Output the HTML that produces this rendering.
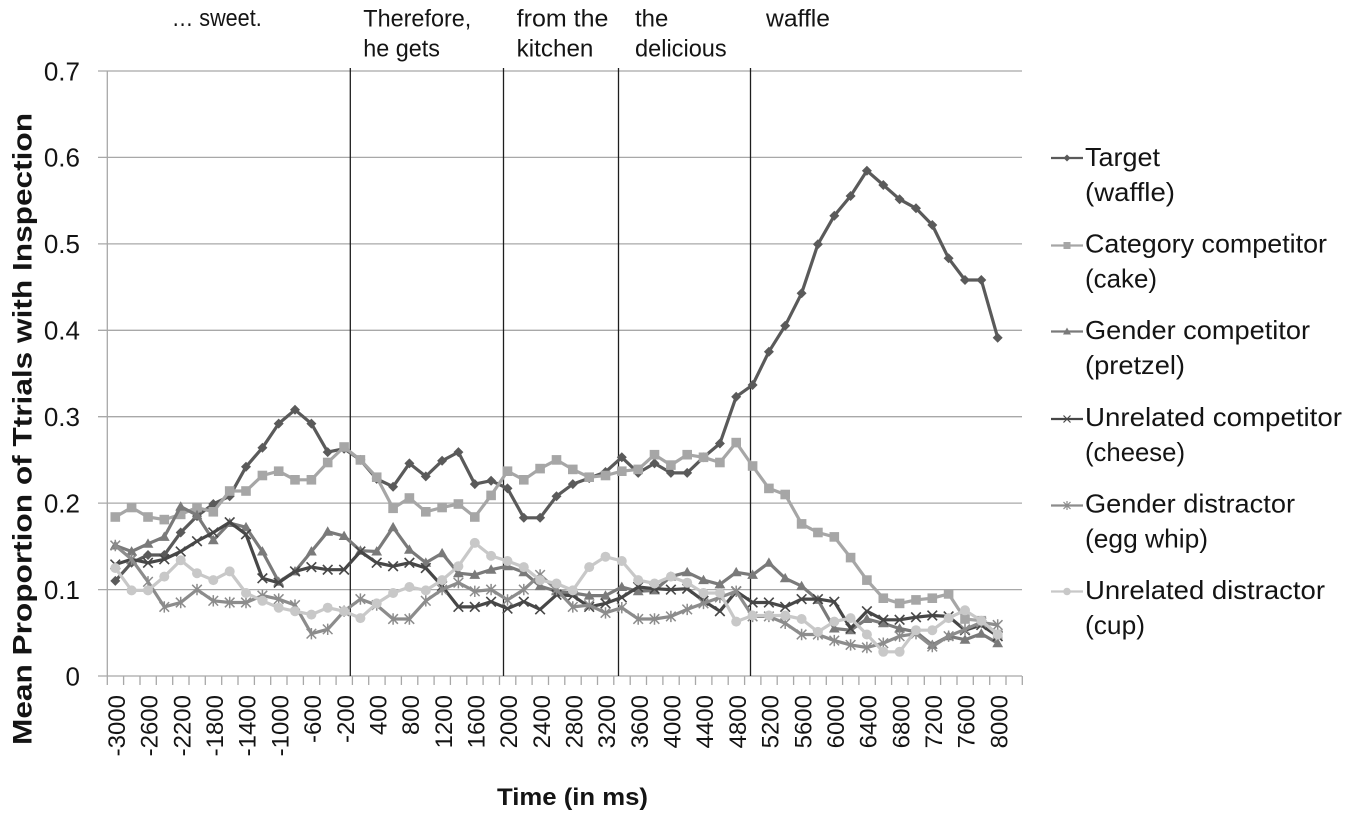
<!DOCTYPE html>
<html>
<head>
<meta charset="utf-8">
<style>
html,body{margin:0;padding:0;background:#fff;}
svg{display:block;}
text{font-family:"Liberation Sans",Arial,sans-serif;fill:#141414;}
</style>
</head>
<body>
<svg width="1345" height="817" viewBox="0 0 1345 817" xmlns="http://www.w3.org/2000/svg">
<defs>
  <marker id="mD" markerUnits="userSpaceOnUse" markerWidth="14" markerHeight="14" refX="7" refY="7" overflow="visible">
    <path d="M7,2 L12,7 L7,12 L2,7Z" fill="#5a5a5a"/>
  </marker>
  <marker id="mS" markerUnits="userSpaceOnUse" markerWidth="14" markerHeight="14" refX="7" refY="7" overflow="visible">
    <rect x="2.2" y="2.2" width="9.6" height="9.6" fill="#a6a6a6"/>
  </marker>
  <marker id="mT" markerUnits="userSpaceOnUse" markerWidth="14" markerHeight="14" refX="7" refY="7" overflow="visible">
    <path d="M7,1.6 L12.4,11 L1.6,11Z" fill="#7a7a7a"/>
  </marker>
  <marker id="mX" markerUnits="userSpaceOnUse" markerWidth="14" markerHeight="14" refX="7" refY="7" overflow="visible">
    <path d="M2.2,2.2 L11.8,11.8 M11.8,2.2 L2.2,11.8" stroke="#474747" stroke-width="1.6" fill="none"/>
  </marker>
  <marker id="mA" markerUnits="userSpaceOnUse" markerWidth="14" markerHeight="14" refX="7" refY="7" overflow="visible">
    <path d="M2.2,2.2 L11.8,11.8 M11.8,2.2 L2.2,11.8 M7,1.3 L7,12.7" stroke="#8c8c8c" stroke-width="1.5" fill="none"/>
  </marker>
  <marker id="mC" markerUnits="userSpaceOnUse" markerWidth="14" markerHeight="14" refX="7" refY="7" overflow="visible">
    <circle cx="7" cy="7" r="5" fill="#c8c8c8"/>
  </marker>
</defs>

<!-- gridlines -->
<g stroke="#a8a8a8" stroke-width="1.3" fill="none">
  <path d="M98,71 H1022 M98,157.4 H1022 M98,243.9 H1022 M98,330.3 H1022 M98,416.7 H1022 M98,503.1 H1022 M98,589.6 H1022 M98,676 H1022"/>
  <path d="M107.3,71 V676"/>
  <path d="M107.3,676V685 M123.6,676V685 M140.0,676V685 M156.3,676V685 M172.7,676V685 M189.0,676V685 M205.3,676V685 M221.7,676V685 M238.0,676V685 M254.4,676V685 M270.7,676V685 M287.0,676V685 M303.4,676V685 M319.7,676V685 M336.1,676V685 M352.4,676V685 M368.7,676V685 M385.1,676V685 M401.4,676V685 M417.8,676V685 M434.1,676V685 M450.4,676V685 M466.8,676V685 M483.1,676V685 M499.5,676V685 M515.8,676V685 M532.1,676V685 M548.5,676V685 M564.8,676V685 M581.2,676V685 M597.5,676V685 M613.8,676V685 M630.2,676V685 M646.5,676V685 M662.9,676V685 M679.2,676V685 M695.5,676V685 M711.9,676V685 M728.2,676V685 M744.6,676V685 M760.9,676V685 M777.2,676V685 M793.6,676V685 M809.9,676V685 M826.3,676V685 M842.6,676V685 M858.9,676V685 M875.3,676V685 M891.6,676V685 M908.0,676V685 M924.3,676V685 M940.6,676V685 M957.0,676V685 M973.3,676V685 M989.7,676V685 M1006.0,676V685 M1022.3,676V685"/>
</g>

<!-- annotation vertical lines -->
<g stroke="#1e1e1e" stroke-width="1.3">
  <path d="M350.3,68 V676 M503.5,68 V676 M618.5,68 V676 M750.5,68 V676"/>
</g>

<!-- series -->
<g fill="none" stroke-width="3.2" stroke-linejoin="round">
<polyline stroke="#5a5a5a" marker-start="url(#mD)" marker-mid="url(#mD)" marker-end="url(#mD)" points="115.3,580.9 131.6,562.8 148.0,555.0 164.3,555.0 180.7,532.5 197.0,516.1 213.3,504.0 229.7,496.2 246.0,466.8 262.4,447.8 278.7,423.6 295.0,409.8 311.4,423.6 327.7,452.1 344.1,448.7 360.4,459.9 376.7,478.9 393.1,486.7 409.4,463.4 425.8,476.4 442.1,460.8 458.4,452.1 474.8,484.1 491.1,480.7 507.5,488.4 523.8,517.8 540.1,517.8 556.5,496.2 572.8,484.1 589.2,478.1 605.5,472.0 621.8,457.3 638.2,472.9 654.5,463.4 670.9,472.9 687.2,472.9 703.5,457.3 719.9,443.5 736.2,396.7 752.6,385.0 768.9,351.7 785.2,325.7 801.6,293.3 817.9,244.3 834.3,215.7 850.6,196.0 866.9,170.7 883.3,185.0 899.6,199.3 916.0,208.3 932.3,225.0 948.6,258.3 965.0,280.0 981.3,280.0 997.7,337.7"/>
<polyline stroke="#a6a6a6" marker-start="url(#mS)" marker-mid="url(#mS)" marker-end="url(#mS)" points="115.3,517.0 131.6,507.5 148.0,517.0 164.3,519.6 180.7,514.4 197.0,507.5 213.3,511.8 229.7,491.0 246.0,491.0 262.4,475.5 278.7,471.2 295.0,479.8 311.4,479.8 327.7,462.5 344.1,447.0 360.4,459.9 376.7,477.2 393.1,508.3 409.4,498.0 425.8,511.8 442.1,507.5 458.4,504.0 474.8,517.0 491.1,495.4 507.5,471.2 523.8,479.8 540.1,468.6 556.5,459.9 572.8,469.4 589.2,477.2 605.5,475.5 621.8,471.2 638.2,469.4 654.5,454.7 670.9,465.1 687.2,454.7 703.5,457.3 719.9,462.5 736.2,442.6 752.6,466.0 768.9,488.4 785.2,494.5 801.6,523.9 817.9,532.5 834.3,536.9 850.6,557.6 866.9,580.1 883.3,598.2 899.6,603.4 916.0,599.9 932.3,598.2 948.6,593.9 965.0,619.0 981.3,620.7 997.7,634.5"/>
<polyline stroke="#7a7a7a" marker-start="url(#mT)" marker-mid="url(#mT)" marker-end="url(#mT)" points="115.3,545.5 131.6,551.5 148.0,543.8 164.3,536.9 180.7,506.6 197.0,515.2 213.3,540.3 229.7,523.0 246.0,527.3 262.4,551.5 278.7,581.8 295.0,571.4 311.4,551.5 327.7,531.7 344.1,536.0 360.4,550.7 376.7,551.5 393.1,527.3 409.4,549.8 425.8,562.8 442.1,553.3 458.4,573.2 474.8,574.9 491.1,569.7 507.5,566.2 523.8,572.3 540.1,586.1 556.5,591.3 572.8,593.0 589.2,595.6 605.5,595.6 621.8,587.0 638.2,591.3 654.5,590.4 670.9,576.6 687.2,572.3 703.5,580.1 719.9,584.4 736.2,572.3 752.6,574.9 768.9,562.8 785.2,578.3 801.6,586.1 817.9,599.9 834.3,628.5 850.6,630.2 866.9,619.0 883.3,623.3 899.6,628.5 916.0,631.9 932.3,644.9 948.6,636.2 965.0,639.7 981.3,633.7 997.7,643.2"/>
<polyline stroke="#474747" marker-start="url(#mX)" marker-mid="url(#mX)" marker-end="url(#mX)" points="115.3,564.5 131.6,559.3 148.0,562.8 164.3,559.3 180.7,551.5 197.0,541.2 213.3,532.5 229.7,522.2 246.0,534.3 262.4,578.3 278.7,582.7 295.0,571.4 311.4,567.1 327.7,569.7 344.1,569.7 360.4,551.5 376.7,562.8 393.1,566.2 409.4,562.8 425.8,568.0 442.1,586.1 458.4,606.9 474.8,606.9 491.1,601.7 507.5,608.6 523.8,601.7 540.1,609.4 556.5,594.8 572.8,595.6 589.2,606.9 605.5,603.4 621.8,597.4 638.2,587.0 654.5,588.7 670.9,589.6 687.2,588.7 703.5,600.8 719.9,611.2 736.2,591.3 752.6,602.5 768.9,602.5 785.2,606.9 801.6,599.1 817.9,599.1 834.3,601.7 850.6,628.5 866.9,611.2 883.3,619.8 899.6,619.8 916.0,617.2 932.3,615.5 948.6,616.4 965.0,630.2 981.3,625.0 997.7,636.2"/>
<polyline stroke="#8c8c8c" marker-start="url(#mA)" marker-mid="url(#mA)" marker-end="url(#mA)" points="115.3,545.5 131.6,559.3 148.0,581.8 164.3,606.9 180.7,602.5 197.0,589.6 213.3,600.8 229.7,602.5 246.0,602.5 262.4,595.6 278.7,599.1 295.0,605.1 311.4,633.7 327.7,629.3 344.1,611.2 360.4,599.1 376.7,605.1 393.1,619.0 409.4,619.0 425.8,600.8 442.1,589.6 458.4,582.7 474.8,591.3 491.1,589.6 507.5,599.9 523.8,589.6 540.1,574.9 556.5,589.6 572.8,606.9 589.2,605.1 605.5,612.9 621.8,607.7 638.2,619.0 654.5,619.0 670.9,616.4 687.2,609.4 703.5,603.4 719.9,597.4 736.2,591.3 752.6,616.4 768.9,616.4 785.2,623.3 801.6,634.5 817.9,634.5 834.3,640.6 850.6,644.9 866.9,647.5 883.3,643.2 899.6,636.2 916.0,633.7 932.3,646.6 948.6,636.2 965.0,629.3 981.3,622.4 997.7,625.0"/>
<polyline stroke="#c8c8c8" marker-start="url(#mC)" marker-mid="url(#mC)" marker-end="url(#mC)" points="115.3,568.0 131.6,590.4 148.0,590.4 164.3,576.6 180.7,560.2 197.0,573.2 213.3,580.1 229.7,571.4 246.0,593.0 262.4,600.8 278.7,607.7 295.0,611.2 311.4,614.6 327.7,607.7 344.1,611.2 360.4,618.1 376.7,603.4 393.1,593.0 409.4,587.0 425.8,590.4 442.1,580.1 458.4,566.2 474.8,542.9 491.1,555.9 507.5,561.0 523.8,567.1 540.1,580.1 556.5,583.5 572.8,590.4 589.2,567.1 605.5,556.7 621.8,561.0 638.2,580.1 654.5,583.5 670.9,576.6 687.2,582.7 703.5,593.0 719.9,593.0 736.2,621.6 752.6,615.5 768.9,615.5 785.2,615.5 801.6,619.0 817.9,631.9 834.3,621.6 850.6,618.1 866.9,634.5 883.3,651.8 899.6,651.8 916.0,630.2 932.3,630.2 948.6,618.1 965.0,610.3 981.3,620.7 997.7,634.5"/>
</g>

<!-- y tick labels -->
<g font-size="26" text-anchor="end">
  <text x="80" y="80.3">0.7</text>
  <text x="80" y="166.7">0.6</text>
  <text x="80" y="253.2">0.5</text>
  <text x="80" y="339.6">0.4</text>
  <text x="80" y="426">0.3</text>
  <text x="80" y="512.4">0.2</text>
  <text x="80" y="598.9">0.1</text>
  <text x="80" y="685.3">0</text>
</g>

<!-- x tick labels -->
<g font-size="24" text-anchor="end">
  <text transform="translate(125,695) rotate(-90)">-3000</text>
  <text transform="translate(157.7,695) rotate(-90)">-2600</text>
  <text transform="translate(190.4,695) rotate(-90)">-2200</text>
  <text transform="translate(223,695) rotate(-90)">-1800</text>
  <text transform="translate(255.7,695) rotate(-90)">-1400</text>
  <text transform="translate(288.4,695) rotate(-90)">-1000</text>
  <text transform="translate(321.1,695) rotate(-90)">-600</text>
  <text transform="translate(353.8,695) rotate(-90)">-200</text>
  <text transform="translate(386.4,695) rotate(-90)">400</text>
  <text transform="translate(419.1,695) rotate(-90)">800</text>
  <text transform="translate(451.8,695) rotate(-90)">1200</text>
  <text transform="translate(484.5,695) rotate(-90)">1600</text>
  <text transform="translate(517.2,695) rotate(-90)">2000</text>
  <text transform="translate(549.8,695) rotate(-90)">2400</text>
  <text transform="translate(582.5,695) rotate(-90)">2800</text>
  <text transform="translate(615.2,695) rotate(-90)">3200</text>
  <text transform="translate(647.9,695) rotate(-90)">3600</text>
  <text transform="translate(680.6,695) rotate(-90)">4000</text>
  <text transform="translate(713.2,695) rotate(-90)">4400</text>
  <text transform="translate(745.9,695) rotate(-90)">4800</text>
  <text transform="translate(778.6,695) rotate(-90)">5200</text>
  <text transform="translate(811.3,695) rotate(-90)">5600</text>
  <text transform="translate(844,695) rotate(-90)">6000</text>
  <text transform="translate(876.6,695) rotate(-90)">6400</text>
  <text transform="translate(909.3,695) rotate(-90)">6800</text>
  <text transform="translate(942,695) rotate(-90)">7200</text>
  <text transform="translate(974.7,695) rotate(-90)">7600</text>
  <text transform="translate(1007.4,695) rotate(-90)">8000</text>
</g>

<!-- axis titles -->
<text x="497" y="805" font-size="24" font-weight="bold" textLength="151" lengthAdjust="spacingAndGlyphs">Time (in ms)</text>
<text transform="translate(31.7,745) rotate(-90)" font-size="27" font-weight="bold" textLength="632" lengthAdjust="spacingAndGlyphs">Mean Proportion of Ttrials with Inspection</text>

<!-- header annotations -->
<g font-size="24">
  <text x="171.7" y="26" textLength="90" lengthAdjust="spacingAndGlyphs">… sweet.</text>
  <text x="363.3" y="26.7" textLength="108" lengthAdjust="spacingAndGlyphs">Therefore,</text>
  <text x="363.3" y="56.7" textLength="76.7" lengthAdjust="spacingAndGlyphs">he gets</text>
  <text x="516.7" y="26.7" textLength="91.7" lengthAdjust="spacingAndGlyphs">from the</text>
  <text x="516.7" y="56.7" textLength="76.7" lengthAdjust="spacingAndGlyphs">kitchen</text>
  <text x="635" y="26.7" textLength="33.3" lengthAdjust="spacingAndGlyphs">the</text>
  <text x="635" y="56.7" textLength="91.7" lengthAdjust="spacingAndGlyphs">delicious</text>
  <text x="766" y="26.7" textLength="64" lengthAdjust="spacingAndGlyphs">waffle</text>
</g>

<!-- legend -->
<g stroke-width="2.2" fill="none">
  <path d="M1051,158 H1083" stroke="#5a5a5a"/>
  <path d="M1051,245.5 H1083" stroke="#a6a6a6"/>
  <path d="M1051,331.5 H1083" stroke="#7a7a7a"/>
  <path d="M1051,419 H1083" stroke="#474747"/>
  <path d="M1051,505.5 H1083" stroke="#8c8c8c"/>
  <path d="M1051,591.5 H1083" stroke="#c8c8c8"/>
</g>
<path d="M1067,154.5 L1070.5,158 L1067,161.5 L1063.5,158Z" fill="#5a5a5a"/>
<rect x="1063.5" y="242" width="7" height="7" fill="#a6a6a6"/>
<path d="M1067,327.5 L1071,334.5 L1063,334.5Z" fill="#7a7a7a"/>
<path d="M1063.5,415.5 L1070.5,422.5 M1070.5,415.5 L1063.5,422.5" stroke="#474747" stroke-width="1.2"/>
<path d="M1063.5,502 L1070.5,509 M1070.5,502 L1063.5,509 M1067,501 L1067,510" stroke="#8c8c8c" stroke-width="1.2"/>
<circle cx="1067" cy="591.5" r="3.8" fill="#c8c8c8"/>

<g font-size="26">
  <text x="1085" y="166" textLength="75" lengthAdjust="spacingAndGlyphs">Target</text>
  <text x="1085" y="201" textLength="90" lengthAdjust="spacingAndGlyphs">(waffle)</text>
  <text x="1085" y="252.5" textLength="242" lengthAdjust="spacingAndGlyphs">Category competitor</text>
  <text x="1085" y="287.5" textLength="72" lengthAdjust="spacingAndGlyphs">(cake)</text>
  <text x="1085" y="339" textLength="225" lengthAdjust="spacingAndGlyphs">Gender competitor</text>
  <text x="1085" y="374" textLength="100" lengthAdjust="spacingAndGlyphs">(pretzel)</text>
  <text x="1085" y="426" textLength="257" lengthAdjust="spacingAndGlyphs">Unrelated competitor</text>
  <text x="1085" y="461" textLength="100" lengthAdjust="spacingAndGlyphs">(cheese)</text>
  <text x="1085" y="512.5" textLength="210" lengthAdjust="spacingAndGlyphs">Gender distractor</text>
  <text x="1085" y="547.5" textLength="123" lengthAdjust="spacingAndGlyphs">(egg whip)</text>
  <text x="1085" y="599" textLength="240" lengthAdjust="spacingAndGlyphs">Unrelated distractor</text>
  <text x="1085" y="634" textLength="60" lengthAdjust="spacingAndGlyphs">(cup)</text>
</g>
</svg>
</body>
</html>
